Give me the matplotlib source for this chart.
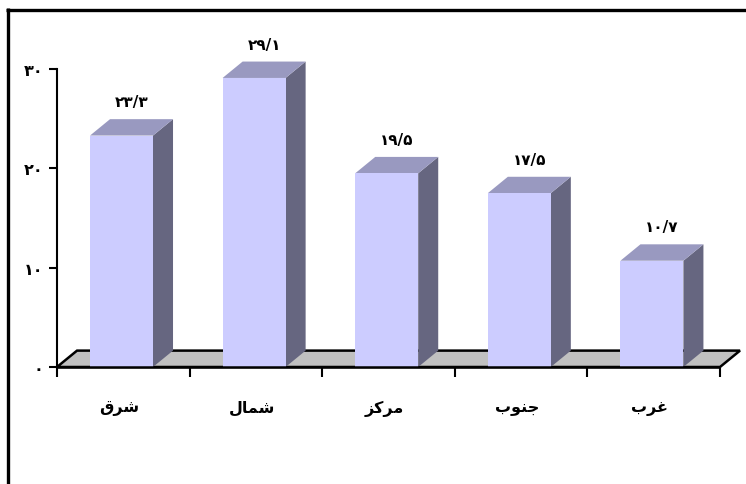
import numpy as np
import matplotlib
matplotlib.use("Agg")
import matplotlib.pyplot as plt
from matplotlib.patches import Polygon, Rectangle
from matplotlib.lines import Line2D

regions = ["شرق", "شمال", "مرکز", "جنوب", "غرب"]
values = [23.3, 29.1, 19.5, 17.5, 10.7]
yticks = [0, 10, 20, 30]

# presentation forms: isolated, final, initial, medial
FORMS = {
    "ا": ("\uFE8D", "\uFE8E", None, None),
    "ب": ("\uFE8F", "\uFE90", "\uFE91", "\uFE92"),
    "ج": ("\uFE9D", "\uFE9E", "\uFE9F", "\uFEA0"),
    "ر": ("\uFEAD", "\uFEAE", None, None),
    "ز": ("\uFEAF", "\uFEB0", None, None),
    "ش": ("\uFEB5", "\uFEB6", "\uFEB7", "\uFEB8"),
    "غ": ("\uFECD", "\uFECE", "\uFECF", "\uFED0"),
    "ق": ("\uFED5", "\uFED6", "\uFED7", "\uFED8"),
    "ک": ("\uFB8E", "\uFB8F", "\uFB90", "\uFB91"),
    "ل": ("\uFEDD", "\uFEDE", "\uFEDF", "\uFEE0"),
    "م": ("\uFEE1", "\uFEE2", "\uFEE3", "\uFEE4"),
    "ن": ("\uFEE5", "\uFEE6", "\uFEE7", "\uFEE8"),
    "و": ("\uFEED", "\uFEEE", None, None),
}


def shape(word):
    # matplotlib has no arabic shaping, so pick the joined forms by hand
    out = []
    for k, ch in enumerate(word):
        f = FORMS[ch]
        prev = k > 0 and FORMS[word[k - 1]][2] is not None
        nxt = k < len(word) - 1 and f[2] is not None
        if prev and nxt:
            out.append(f[3])
        elif prev:
            out.append(f[1])
        elif nxt:
            out.append(f[2])
        else:
            out.append(f[0])
    return "".join(out[::-1])


FA = str.maketrans("0123456789.", "۰۱۲۳۴۵۶۷۸۹/")


def fa(v):
    return str(v).translate(FA)


plt.rcParams["font.family"] = ["DejaVu Sans"]
plt.rcParams["font.weight"] = "bold"

W, H = 746, 485
fig = plt.figure(figsize=(W / 100, H / 100), dpi=100)
ax = fig.add_axes([57 / W, (H - 368) / H, 663 / W, 298 / H])
ax.set_xlim(0, 5)
ax.set_ylim(0, 30)

front = "#ccccff"
top = "#9999c0"
side = "#666680"
dx, dy = 0.151, 1.65      # depth offset in data units
x0, bw = 0.249, 0.475     # bar start inside slot, bar width

# floor
ax.add_patch(Polygon([(0, 0), (5, 0), (5 + dx, dy), (dx, dy)], closed=True,
                     facecolor="#c0c0c0", edgecolor="black", lw=1.8,
                     clip_on=False, zorder=1))

for i, v in enumerate(values):
    xa = i + x0
    xb = xa + bw
    ax.add_patch(Polygon([(xb, 0), (xb + dx, dy), (xb + dx, v + dy), (xb, v)],
                         closed=True, facecolor=side, edgecolor="none",
                         clip_on=False, zorder=2))
    ax.add_patch(Polygon([(xa, v), (xb, v), (xb + dx, v + dy), (xa + dx, v + dy)],
                         closed=True, facecolor=top, edgecolor="none",
                         clip_on=False, zorder=2))
    ax.add_patch(Rectangle((xa, 0), bw, v, facecolor=front, edgecolor="none",
                           clip_on=False, zorder=3))
    ax.text((xa + xb + dx) / 2, v + dy + 1.0, fa(v), ha="center", va="bottom",
            fontsize=11, fontweight="bold", zorder=5)

ax.plot([0, 5], [0, 0], color="black", lw=1.8, clip_on=False, zorder=4,
        solid_capstyle="butt")

for s in ["top", "right", "bottom"]:
    ax.spines[s].set_visible(False)
ax.spines["left"].set_linewidth(1.5)
ax.patch.set_visible(False)

ax.set_yticks(yticks)
ax.set_yticklabels([fa(t) for t in yticks], fontsize=11.5, fontweight="bold")
ax.set_xticks(np.arange(6))
ax.set_xticklabels([])
ax.tick_params(axis="y", direction="out", length=6, width=1.5, pad=4)
ax.tick_params(axis="x", direction="out", length=7, width=1.5)

for i, name in enumerate(regions):
    ax.text(i + 0.47, -4.1, shape(name), ha="center", va="center",
            fontsize=11.5, fontweight="bold")

# outer frame, top and left edges only
fig.add_artist(Line2D([6 / W, 1], [1 - 10.5 / H, 1 - 10.5 / H], color="black",
                      lw=2.4, transform=fig.transFigure, solid_capstyle="butt"))
fig.add_artist(Line2D([7.5 / W, 7.5 / W], [0, 1 - 9 / H], color="black",
                      lw=2.4, transform=fig.transFigure, solid_capstyle="butt"))

fig.savefig("out.png", dpi=100)
